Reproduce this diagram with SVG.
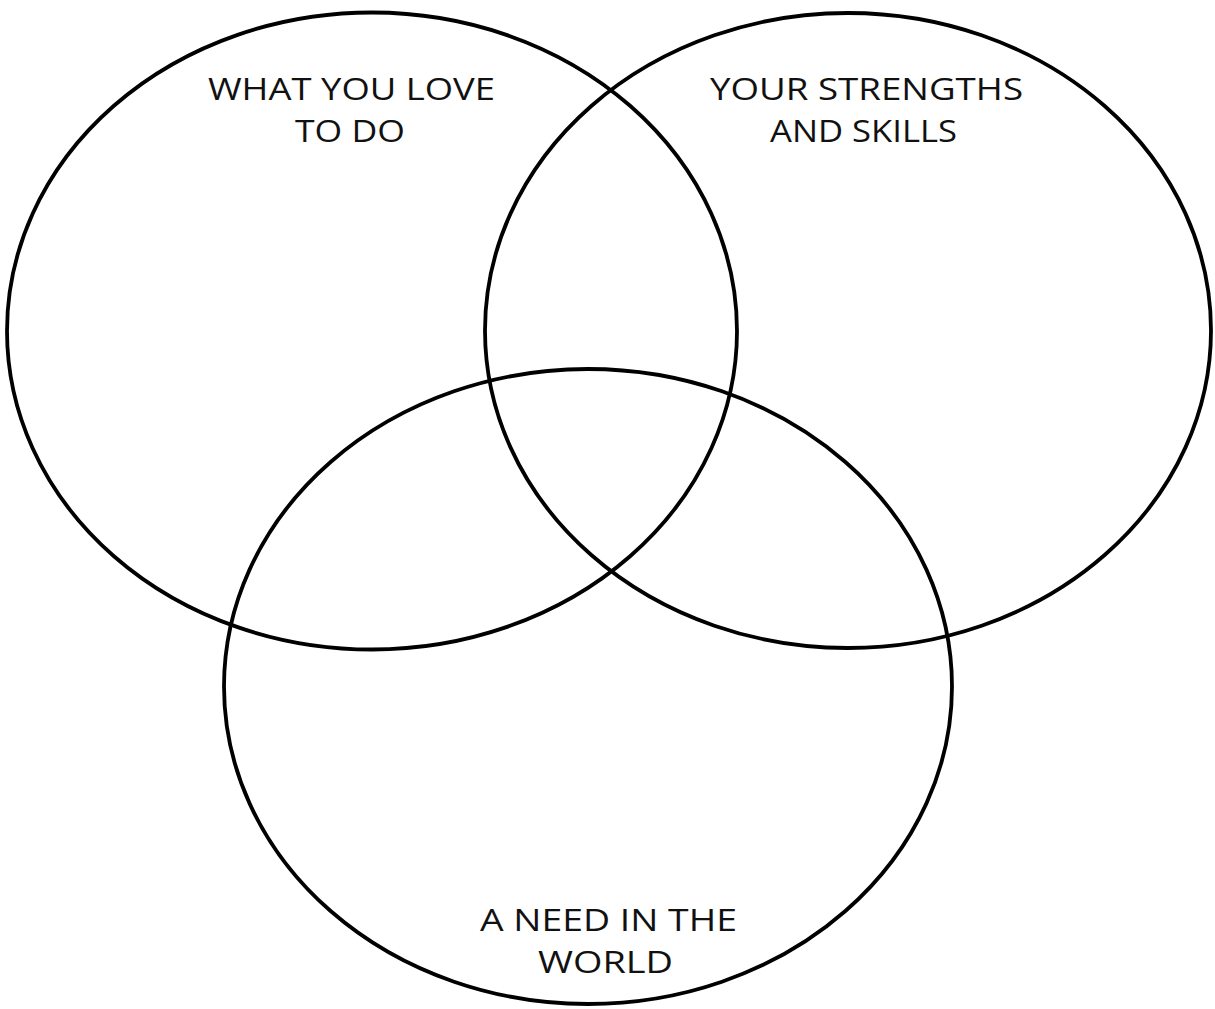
<svg xmlns="http://www.w3.org/2000/svg" width="1215" height="1009" viewBox="0 0 1215 1009">
<style>
.c{fill:none;stroke:#000;stroke-width:3.8}
.t{font-family:"Open Sans","Liberation Sans",sans-serif;font-size:31px;fill:#111;text-anchor:middle}
</style>
<rect width="1215" height="1009" fill="#fff"/>
<g id="love">
<ellipse class="c" cx="372" cy="331" rx="365" ry="318.5"/>
<text class="t" x="351.5" y="100" textLength="287" lengthAdjust="spacingAndGlyphs">WHAT YOU LOVE</text>
<text class="t" x="350" y="142" textLength="110" lengthAdjust="spacingAndGlyphs">TO DO</text>
</g>
<g id="strengths">
<ellipse class="c" cx="848" cy="330.5" rx="363" ry="317.5"/>
<text class="t" x="866.5" y="100" textLength="313" lengthAdjust="spacingAndGlyphs">YOUR STRENGTHS</text>
<text class="t" x="863.5" y="142" textLength="187" lengthAdjust="spacingAndGlyphs">AND SKILLS</text>
</g>
<g id="need">
<ellipse class="c" cx="588" cy="686.5" rx="364" ry="317.5"/>
<text class="t" x="608.5" y="931" textLength="257" lengthAdjust="spacingAndGlyphs">A NEED IN THE</text>
<text class="t" x="605.5" y="973" textLength="135" lengthAdjust="spacingAndGlyphs">WORLD</text>
</g>
<g id="connectors"></g>
</svg>
